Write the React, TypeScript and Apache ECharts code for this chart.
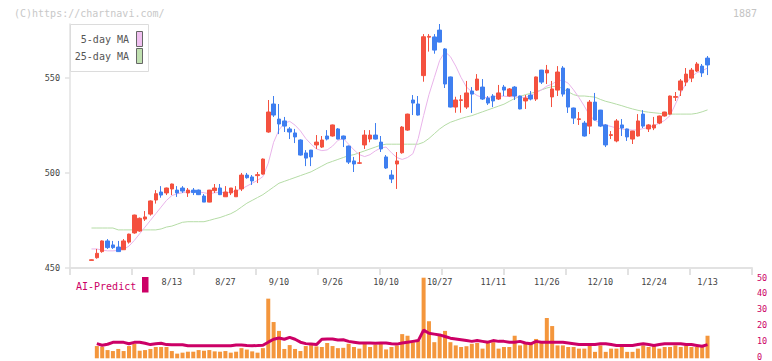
import React, { useEffect, useRef } from 'react';
import * as echarts from 'echarts';

const dates = [
  '7/22','7/23','7/24','7/25','7/28','7/29','7/30','7/31','8/1','8/4',
  '8/5','8/6','8/7','8/8','8/12','8/13','8/14','8/15','8/18','8/19',
  '8/20','8/21','8/22','8/25','8/26','8/27','8/28','8/29','9/1','9/2',
  '9/3','9/4','9/5','9/8','9/9','9/10','9/11','9/12','9/16','9/17',
  '9/18','9/19','9/22','9/24','9/25','9/26','9/29','9/30','10/1','10/2',
  '10/3','10/6','10/7','10/8','10/9','10/10','10/14','10/15','10/16','10/17',
  '10/20','10/21','10/22','10/23','10/24','10/27','10/28','10/29','10/30','10/31',
  '11/4','11/5','11/6','11/7','11/10','11/11','11/12','11/13','11/14','11/17',
  '11/18','11/19','11/20','11/21','11/25','11/26','11/27','11/28','12/1','12/2',
  '12/3','12/4','12/5','12/8','12/9','12/10','12/11','12/12','12/15','12/16',
  '12/17','12/18','12/19','12/22','12/23','12/24','12/25','12/26','12/29','12/30',
  '1/5','1/6','1/7','1/8','1/9','1/13'
];

const openP = [
  454,455.4,458.6,464.2,462.1,461.0,459.6,463.6,468.4,469.4,
  475.7,478.3,485.7,489.9,489.4,491.5,490.9,492,489.4,490.9,
  490.9,487.8,484.6,490.6,492,487.4,489.4,487.4,491.5,498.8,
  497.8,498.5,499.3,521.4,536.1,528.2,527.2,523,520.9,517.2,
  510.4,511.9,514.6,513.5,519.3,519.3,523,519.3,514,506.2,
  505,514.6,517.7,519.8,516.1,508.3,498.8,504.6,510.5,522.4,
  538.2,536.1,551,571.2,571.3,574.9,565,550.3,534.5,538,
  534.5,542.9,543.4,545,539.2,540.3,538.7,545,540.3,545,
  540.3,537.7,540.8,538.7,553.9,552.4,539.8,543.4,555,544,
  534,528,526.1,524.5,537.1,532.9,525.1,519.6,516.7,525.1,
  523,517.7,519.3,530.8,523,523.5,526.1,529.8,530.8,539.6,
  543.4,547.6,549.7,553.4,556,560.2
];
const closeP = [
  454.3,457.7,464.2,460.7,460.7,458.6,464.2,467.8,477.8,476.1,
  476.8,485.2,489,488.3,492,494.1,489.4,490.4,490.9,489.6,
  488.5,484.6,490.9,492,488.5,489.9,492,490.9,498.8,497.4,
  495.7,499,507.2,531.9,530.3,525.6,524.5,521.4,518.8,509.3,
  507.7,508.3,516.1,517.2,517.7,525.1,517.7,517.7,505.6,504.6,
  505.2,519.8,519.8,517.7,512.5,502.5,496.7,506.2,524,530.8,
  536.6,530.3,571.4,571.6,564.4,568.6,546.6,534.5,538.2,538.3,
  541.9,541.3,549.2,538.7,536.6,537.7,541.9,543.4,544,540.3,
  533.5,539.2,538.7,550.3,547.6,553.9,544,552.9,541.3,534.5,
  528.7,528.3,519.3,537.1,527.7,524.5,514.6,520,527.2,523.5,
  518.8,521.9,527.2,524.5,525.1,525.1,529.8,531.9,540.3,540,
  548.2,551.8,553.9,557.1,552.4,556.6
];
const lowP = [
  454,454.9,458,460,460,458.6,459.6,462.8,468,469,
  474.7,477.5,483.8,486.9,488.3,488.3,487.3,489.4,487.3,488.3,
  488.3,484.6,484.5,489.4,488.3,487.4,488.3,487.4,490.4,496.9,
  493.6,494.6,499,521,529.3,520.3,521.4,517.7,515.6,509,
  503.5,503.5,512.5,513,517,519,517.5,513.5,504.6,500.4,
  504.6,512.5,516,517.5,510.9,502,494.6,491.5,510,522,
  530.3,530,547.8,563.6,562.5,568.5,544.5,534.3,531.5,531.5,
  533.5,531.4,543,538.2,535.6,534.5,538.2,540.3,540,538.2,
  533.3,533.5,538,537.7,546.6,546.6,534.5,540.3,540,531.4,
  525.6,525.1,519,520.3,527.5,524,513.5,517.7,516,519.3,
  516.7,515.1,519,523.5,521.4,522.4,525.5,529.5,530.5,537.7,
  540.3,545.5,547.6,552.9,550.3,551.3
];
const highP = [
  454.5,460,464.5,465.2,464.2,464.2,465.2,468,478,476.5,
  479.9,485.5,490.9,493,492.2,494.3,493,493,492,492,
  491.2,488.8,491,494.1,494.1,493,492,493,499.9,499.9,
  498.8,500.4,507.5,538.2,540.3,536.1,529.3,524,523,517.5,
  511.9,512,519.8,519.3,522.4,525.3,523.5,519.5,514.3,508.3,
  510.9,522.4,522.4,526.1,519.3,509.3,501.4,510.9,524.5,531,
  540.8,540.3,572.8,572.8,572.8,578.1,565.5,550.5,539.9,540.8,
  548.2,545,551.8,549.2,540.3,541.3,546.1,546.1,544.5,545.5,
  540.5,540.8,542.9,550.5,554,556.6,548.2,556,556,544.5,
  534.2,531.9,527.2,538.2,541.9,533,525.5,521.9,528.2,528.2,
  523.2,522,530.8,532.9,525.5,529.3,530,532,540.5,542.4,
  549.2,555,555,558.1,557.1,561.3
];
const ma5 = [
  460,460,459.4,459,459,459.2,459.8,461.5,464.5,468,
  471.5,475,478.5,482,485.5,488,489,489.5,490,490,
  490,489.5,489,489.5,489.7,489.5,489.8,490.5,491.5,493,
  494.5,496,498,505,516,522.5,526,527,525,522,
  518,515,512.5,511.6,512,514,517,518,515,512,
  509.5,508.5,509.5,511.5,513,513.5,510.5,508,507,508,
  510,518,530,541,550,559,563.5,561,556,550,
  545,542.5,540.5,539.6,539.5,540,540.3,540.2,540,539.9,
  539.6,539.6,540.5,542,543.5,545.5,546.5,548.5,548.5,547,
  543.5,539.5,535,530,527.5,526,525,524.3,523.5,523,
  522.6,522.4,522.5,523.2,523.8,524.8,526,527.5,530,536,
  542,547,550.5,552.5,553.5,555
];
const ma25 = [
  471,471,471,471,471,470,470,470,470,470,
  470,470,470,470.5,471.5,472,473,474,474.3,474.3,
  474.3,474.3,475,475.8,476.5,477.5,478.5,480,482,484,
  485.5,487,488.5,490.5,492.5,494.5,495.5,496.5,497.5,498.5,
  499.5,500.5,502,503.5,505,506,507,508,509,509.5,
  510.5,511.5,512.5,513.5,514.5,515,515,515,515,515,
  515,515,516,518,520.5,523,525,526.5,527.5,528.5,
  529.3,530,531,532,533,534,535,536,537.5,539,
  540,541,541.7,542.5,543.5,544.5,545.2,545.5,544,542.5,
  541,540.3,540.3,540,539.7,538.5,537.5,536.8,536,535.2,
  534.3,533.5,532.8,532.2,531.8,531.5,531.2,530.8,530.8,530.8,
  530.8,530.8,530.8,531.2,532,533
];
const volume = [
  null,7.6,7.2,5.1,4.5,5.8,4.5,7.6,9.1,4.7,
  5.1,5.8,7.0,7.0,7.0,4.5,2.9,3.5,4.1,4.1,
  5.1,4.7,5.1,4.3,4.1,4.5,3.5,4.1,6.3,5.4,
  4.3,3.5,6.3,37,22.5,17,5.8,8.2,5.8,4.5,
  7.6,8.2,7.4,7.0,9.5,7.6,6.3,6.5,9,7,
  6,9,7,8.5,10,5.5,7,8,15,14,
  10,11,50,23,10,15,17,10,8,7,
  7.5,9,9.5,6,10,10,6,7,7,14,
  8,9,10,12,10,25,20,8,8,7,
  7,6,6,8,4,8,4,6,6,7,
  4,4,6,8,7,8,6,7,7,8,
  7,8,7,7,7,14
];
const aiPredict = [
  null,9.1,8.1,8.7,9.9,9.9,9.9,9.0,9.9,10,
  9.3,8.5,9,9.3,8.5,8.4,8.4,8.4,7.8,7.8,
  7.8,7.8,7.8,7.8,7.8,7.8,7.8,8.3,8.3,8,
  7.8,7.9,8.1,10,11.8,12.6,11.8,13,11.8,10,
  9.1,8.8,8.5,11.8,12,12,11.3,11.5,10.5,10,
  9.5,9.5,9.5,9.3,9.5,9.5,9,8.8,9.5,10,
  10.5,11,17.5,15.5,15,14.5,13.5,12.5,12,11.5,
  11,10.5,11,10.5,10,11,10.5,10.5,10,10,
  10.5,9.5,9,10.5,10,10,10,10,10,9.5,
  9,8.5,8.5,8.5,8.5,9,9,8.5,8,8,
  8,8,8.5,9,8.5,8,8.5,9,9,9,
  9,8.5,8.5,8,7.5,8.5
];

const priceTicks = [450, 500, 550];
const predictTicks = [0, 10, 20, 30, 40, 50];

const RED = '#f4513f';
const BLUE = '#3f7ff0';
const CRIMSON = '#cc0066';
const AXIS = '#e2e2e2';
const FONT = 'DejaVu Sans Mono';

export default function App() {
  const ref = useRef<HTMLDivElement>(null);
  useEffect(() => {
    const chart = echarts.init(ref.current as HTMLDivElement, null, { renderer: 'svg' });
    const candles = dates.map((_, i) => [openP[i], closeP[i], lowP[i], highP[i]]);
    const plotL = 88.8;
    const plotW = 621.4;
    const yMax = 578.1;
    chart.setOption({
      animation: false,
      grid: [
        { left: 70, top: 24, width: 682, height: 244 },
        { left: plotL, top: 24, width: plotW, height: 244 },
        { left: plotL, top: 277.7, width: plotW, height: 80.6 },
        { left: 70, top: 277.7, width: 682, height: 80.6 },
      ],
      xAxis: [
        {
          gridIndex: 0, type: 'value', min: 0, max: 11, interval: 1,
          axisLine: { show: true, lineStyle: { color: AXIS, width: 2 } },
          axisTick: { show: true, length: 7, lineStyle: { color: AXIS, width: 2 } },
          axisLabel: { show: false }, splitLine: { show: false },
        },
        {
          gridIndex: 1, type: 'category', data: dates, boundaryGap: true,
          axisLine: { show: false }, axisTick: { show: false }, splitLine: { show: false },
          axisLabel: {
            interval: (i: number) => i >= 15 && (i - 15) % 10 === 0,
            margin: 9, color: '#444', fontFamily: FONT, fontSize: 8.5,
          },
        },
        { gridIndex: 2, type: 'category', data: dates, boundaryGap: true, show: false },
        { gridIndex: 3, type: 'value', min: 0, max: 1, show: false },
      ],
      yAxis: [
        {
          gridIndex: 0, type: 'value', min: 450, max: yMax, interval: 50,
          axisLine: { show: true, lineStyle: { color: AXIS, width: 1.5 } },
          axisTick: { show: true, length: 5, lineStyle: { color: AXIS, width: 1.5 }, customValues: priceTicks },
          axisLabel: {
            customValues: priceTicks, margin: 10, color: '#444', fontFamily: FONT, fontSize: 8.5,
            formatter: (v: number) => (priceTicks.includes(v) ? String(v) : ''),
          },
          splitLine: { show: false },
        },
        { gridIndex: 1, type: 'value', min: 450, max: yMax, show: false },
        { gridIndex: 2, type: 'value', min: 0, max: 50, show: false },
        {
          gridIndex: 3, type: 'value', position: 'right', min: 0, max: 50, interval: 10,
          axisLine: { show: false }, axisTick: { show: false }, splitLine: { show: false },
          axisLabel: {
            customValues: predictTicks, margin: 5, color: CRIMSON, fontFamily: FONT, fontSize: 8.5,
          },
        },
      ],
      series: [
        {
          type: 'line', xAxisIndex: 1, yAxisIndex: 1, data: ma25, symbol: 'none',
          lineStyle: { color: '#b5dca6', width: 1 }, z: 1,
        },
        {
          type: 'line', xAxisIndex: 1, yAxisIndex: 1, data: ma5, symbol: 'none',
          lineStyle: { color: '#e9b4ea', width: 1 }, z: 1,
        },
        {
          type: 'candlestick', xAxisIndex: 1, yAxisIndex: 1, data: candles, barWidth: 4,
          itemStyle: { color: RED, color0: BLUE, borderColor: RED, borderColor0: BLUE, borderWidth: 1 },
          z: 2,
        },
        {
          type: 'bar', xAxisIndex: 2, yAxisIndex: 2, data: volume, barWidth: 4,
          itemStyle: { color: '#f4963c' },
        },
        {
          type: 'line', xAxisIndex: 2, yAxisIndex: 2, data: aiPredict, symbol: 'none',
          lineStyle: { color: CRIMSON, width: 3 },
        },
      ],
      graphic: [
        {
          type: 'text', x: 14, y: 13, z: 10,
          style: { text: '(C)https://chartnavi.com/', fill: '#c8c8c8', font: `10px "${FONT}"`,
            textAlign: 'left', textVerticalAlign: 'middle', align: 'left', verticalAlign: 'middle' },
        },
        {
          type: 'text', x: 757, y: 13, z: 10,
          style: { text: '1887', fill: '#c4c4c4', font: `10px "${FONT}"`,
            textAlign: 'right', textVerticalAlign: 'middle', align: 'right', verticalAlign: 'middle' },
        },
        {
          type: 'rect', z: 10, shape: { x: 70.5, y: 24.5, width: 78, height: 47 },
          style: { fill: '#ffffff', stroke: '#dcdcdc', lineWidth: 1 },
        },
        {
          type: 'text', x: 129, y: 39.5, z: 11,
          style: { text: '5-day MA', fill: '#555', font: `10px "${FONT}"`,
            textAlign: 'right', textVerticalAlign: 'middle', align: 'right', verticalAlign: 'middle' },
        },
        {
          type: 'text', x: 129, y: 56.5, z: 11,
          style: { text: '25-day MA', fill: '#555', font: `10px "${FONT}"`,
            textAlign: 'right', textVerticalAlign: 'middle', align: 'right', verticalAlign: 'middle' },
        },
        {
          type: 'rect', z: 11, shape: { x: 136.5, y: 31.5, width: 6, height: 15 },
          style: { fill: '#f0c0f0', stroke: '#666', lineWidth: 1 },
        },
        {
          type: 'rect', z: 11, shape: { x: 136.5, y: 48.5, width: 6, height: 15 },
          style: { fill: '#c0e0b0', stroke: '#666', lineWidth: 1 },
        },
        {
          type: 'text', x: 76, y: 286, z: 10,
          style: { text: 'AI-Predict', fill: CRIMSON, font: `10px "${FONT}"`,
            textAlign: 'left', textVerticalAlign: 'middle', align: 'left', verticalAlign: 'middle' },
        },
        {
          type: 'rect', z: 10, shape: { x: 142, y: 277, width: 6.5, height: 15.5 },
          style: { fill: CRIMSON },
        },
      ],
    });
    return () => chart.dispose();
  }, []);
  return (
    <div
      ref={ref}
      style={{ position: 'absolute', left: 0, top: 0, width: 772, height: 361 }}
    />
  );
}
